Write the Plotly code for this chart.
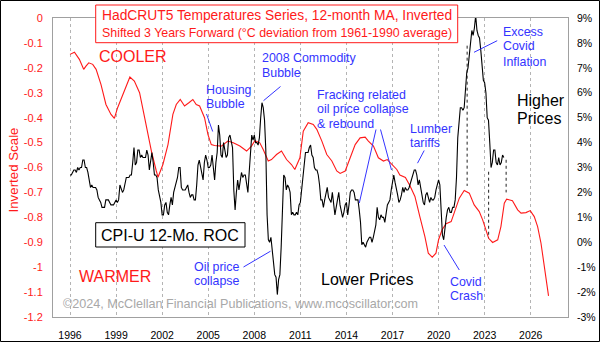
import plotly.graph_objects as go

# ---------------- data ----------------
# HadCRUT5 12-month MA, inverted, shifted 3 yrs forward (left axis, deg C)
red_x = [1996.0, 1996.29, 1996.61, 1996.89, 1997.04, 1997.22, 1997.48, 1997.7, 1998.02, 1998.34,
         1998.67, 1998.89, 1999.1, 1999.43, 1999.75, 1999.9, 2000.19, 2000.53, 2000.86, 2001.3,
         2001.62, 2001.73, 2002.05, 2002.38, 2002.7, 2002.92, 2003.18, 2003.46, 2003.74, 2004.0,
         2004.22, 2004.44, 2004.76, 2004.98, 2005.2, 2005.41, 2005.85, 2006.28, 2006.63, 2007.06,
         2007.5, 2007.82, 2008.04, 2008.36, 2008.58, 2008.91, 2009.12, 2009.45, 2009.77, 2010.1,
         2010.42, 2010.64, 2010.97, 2011.19, 2011.51, 2011.84, 2012.07, 2012.4, 2012.72, 2013.05,
         2013.37, 2013.59, 2013.92, 2014.24, 2014.57, 2014.89, 2015.22, 2015.43, 2015.76, 2016.08,
         2016.41, 2016.66, 2016.95, 2017.28, 2017.48, 2017.84, 2018.13, 2018.46, 2018.78, 2019.11,
         2019.33, 2019.59, 2019.83, 2020.0, 2020.23, 2020.49, 2020.82, 2021.03, 2021.35, 2021.67,
         2022.0, 2022.32, 2022.65, 2022.87, 2023.09, 2023.26, 2023.52, 2023.85, 2024.06, 2024.28,
         2024.43, 2024.81, 2025.15, 2025.37, 2025.69, 2025.97, 2026.23, 2026.45, 2026.67, 2026.89,
         2027.16]
red_y = [-0.146, -0.137, -0.166, -0.206, -0.193, -0.180, -0.186, -0.206, -0.267, -0.347,
         -0.387, -0.403, -0.360, -0.307, -0.253, -0.237, -0.253, -0.300, -0.400, -0.534,
         -0.614, -0.639, -0.588, -0.508, -0.387, -0.347, -0.327, -0.353, -0.340, -0.327,
         -0.347, -0.353, -0.400, -0.467, -0.508, -0.512, -0.514, -0.494, -0.501, -0.514,
         -0.534, -0.514, -0.492, -0.501, -0.528, -0.574, -0.568, -0.548, -0.534, -0.568,
         -0.588, -0.608, -0.561, -0.454, -0.420, -0.427, -0.447, -0.494, -0.548, -0.574,
         -0.614, -0.624, -0.614, -0.561, -0.508, -0.481, -0.478, -0.494, -0.514, -0.561,
         -0.574, -0.568, -0.588, -0.608, -0.630, -0.640, -0.672, -0.716, -0.797, -0.877,
         -0.944, -0.960, -0.944, -0.890, -0.850, -0.826, -0.817, -0.777, -0.723, -0.692,
         -0.703, -0.750, -0.777, -0.810, -0.850, -0.884, -0.901, -0.890, -0.837, -0.743,
         -0.727, -0.733, -0.770, -0.783, -0.781, -0.773, -0.797, -0.837, -0.904, -0.998,
         -1.115]

# CPI-U 12-month rate of change (%), monthly Jan 1996 .. Apr 2024 (right axis)
cpi_start_year = 1996
cpi_roc = [
    2.7, 2.7, 2.8, 2.9, 2.9, 2.8, 3.0, 2.9, 3.0, 3.0, 3.3, 3.3,
    3.0, 3.0, 2.8, 2.5, 2.2, 2.3, 2.2, 2.2, 2.2, 2.1, 1.8, 1.7,
    1.6, 1.4, 1.4, 1.4, 1.7, 1.7, 1.7, 1.6, 1.5, 1.5, 1.5, 1.6,
    1.7, 1.6, 1.7, 2.3, 2.1, 2.0, 2.1, 2.3, 2.6, 2.6, 2.6, 2.7,
    2.7, 3.2, 3.8, 3.1, 3.2, 3.7, 3.7, 3.4, 3.5, 3.4, 3.4, 3.4,
    3.7, 3.5, 2.9, 3.3, 3.6, 3.2, 2.7, 2.7, 2.6, 2.1, 1.9, 1.6,
    1.1, 1.1, 1.5, 1.6, 1.2, 1.1, 1.5, 1.8, 1.5, 2.0, 2.2, 2.4,
    2.6, 3.0, 3.0, 2.2, 2.1, 2.1, 2.1, 2.2, 2.3, 2.0, 1.8, 1.9,
    1.9, 1.7, 1.7, 2.3, 3.1, 3.3, 3.0, 2.7, 2.5, 3.2, 3.5, 3.3,
    3.0, 3.0, 3.1, 3.5, 2.8, 2.5, 3.2, 3.6, 4.7, 4.3, 3.5, 3.4,
    4.0, 3.6, 3.4, 3.5, 4.2, 4.3, 4.1, 3.8, 2.1, 1.3, 2.0, 2.5,
    2.1, 2.4, 2.8, 2.6, 2.7, 2.7, 2.4, 2.0, 2.8, 3.5, 4.3, 4.1,
    4.3, 4.0, 4.0, 3.9, 4.2, 5.0, 5.6, 5.4, 4.9, 3.7, 1.1, 0.1,
    0.0, 0.2, -0.4, -0.7, -1.3, -1.4, -2.1, -1.5, -1.3, -0.2, 1.8, 2.7,
    2.6, 2.1, 2.3, 2.2, 2.0, 1.1, 1.2, 1.1, 1.1, 1.2, 1.1, 1.5,
    1.6, 2.1, 2.7, 3.2, 3.6, 3.6, 3.6, 3.8, 3.9, 3.5, 3.4, 3.0,
    2.9, 2.9, 2.7, 2.3, 1.7, 1.7, 1.4, 1.7, 2.0, 2.2, 1.8, 1.7,
    1.6, 2.0, 1.5, 1.1, 1.4, 1.8, 2.0, 1.5, 1.2, 1.0, 1.2, 1.5,
    1.6, 1.1, 1.5, 2.0, 2.1, 2.1, 2.0, 1.7, 1.7, 1.7, 1.3, 0.8,
    -0.1, 0.0, -0.1, -0.2, 0.0, 0.1, 0.2, 0.2, 0.0, 0.2, 0.5, 0.7,
    1.4, 1.0, 0.9, 1.1, 1.0, 1.0, 0.8, 1.1, 1.5, 1.6, 1.7, 2.1,
    2.5, 2.7, 2.4, 2.2, 1.9, 1.6, 1.7, 1.9, 2.2, 2.0, 2.2, 2.1,
    2.1, 2.2, 2.4, 2.5, 2.8, 2.9, 2.9, 2.7, 2.3, 2.5, 2.2, 1.9,
    1.6, 1.5, 1.9, 2.0, 1.8, 1.6, 1.8, 1.7, 1.7, 1.8, 2.1, 2.3,
    2.5, 2.3, 1.5, 0.3, 0.1, 0.6, 1.0, 1.3, 1.4, 1.2, 1.2, 1.4,
    1.4, 1.7, 2.6, 4.2, 5.0, 5.4, 5.4, 5.3, 5.4, 6.2, 6.8, 7.0,
    7.5, 7.9, 8.5, 8.3, 8.6, 9.1, 8.5, 8.3, 8.2, 7.7, 7.1, 6.5,
    6.4, 6.0, 5.0, 4.9, 4.0, 3.0, 3.2, 3.7, 3.7, 3.2, 3.1, 3.4,
    3.1, 3.2, 3.5, 3.4,
]
cpi_x = [cpi_start_year + i / 12.0 for i in range(len(cpi_roc))]

x_ticks = list(range(1996, 2027, 3))
left_ticks = [0, -0.1, -0.2, -0.3, -0.4, -0.5, -0.6, -0.7, -0.8, -0.9, -1.0, -1.1, -1.2]
left_labels = ["0", "-0.1", "-0.2", "-0.3", "-0.4", "-0.5", "-0.6", "-0.7", "-0.8", "-0.9", "-1", "-1.1", "-1.2"]
right_ticks = list(range(-3, 10))
right_labels = [f"{v}%" for v in right_ticks]

# guide (dotted) lines: x, y_top, y_bottom on left-axis scale
guide_x = [2021.86, 2023.26, 2024.40]
guide_top = [-0.111, -0.617, -0.569]
guide_bot = [-0.674, -0.884, -0.700]

# ---------------- layout constants ----------------
W_PX, H_PX = 600, 342
L, R, T, B = 53, 32, 18, 25
PW, PH = W_PX - L - R, H_PX - T - B
FONT = "Liberation Sans, Arial, sans-serif"
BLUE = "#3434ff"
RED = "#ff1a1a"


def px(xp):
    return (xp - L) / PW


def py(yp):
    return (H_PX - B - yp) / PH


fig = go.Figure()
fig.add_trace(go.Scatter(x=red_x, y=red_y, mode="lines", line=dict(color=RED, width=1.1),
                         yaxis="y", hoverinfo="skip", showlegend=False))
fig.add_trace(go.Scatter(x=cpi_x, y=cpi_roc, mode="lines", line=dict(color="black", width=1.1),
                         yaxis="y2", hoverinfo="skip", showlegend=False))

shapes = []
for gx, gt, gb in zip(guide_x, guide_top, guide_bot):
    shapes.append(dict(type="line", xref="x", yref="y", x0=gx, x1=gx, y0=gt, y1=gb,
                       line=dict(color="#222222", width=1, dash="dot")))

# outer border
shapes.append(dict(type="rect", xref="paper", yref="paper", x0=px(0.5), x1=px(599.5),
                   y0=py(341.5), y1=py(0.5), line=dict(color="black", width=1), layer="above"))
# title box
shapes.append(dict(type="rect", xref="paper", yref="paper", x0=px(95.7), x1=px(457.7),
                   y0=py(42.7), y1=py(5), line=dict(color=RED, width=1), fillcolor="white", layer="above"))
# CPI label box
shapes.append(dict(type="rect", xref="paper", yref="paper", x0=px(95.7), x1=px(245),
                   y0=py(247), y1=py(222.7), line=dict(color="black", width=1), fillcolor="white", layer="above"))

# pointer lines
pointers = [((206.5, 114), (212.7, 131.5)), ((280.5, 86.5), (263.5, 100.7)),
            ((359.3, 203), (376, 129.5)), ((380.5, 129.5), (391.5, 170)),
            ((424.2, 150.5), (417.5, 163.2)), ((497.2, 40.7), (474, 52.3)),
            ((243.5, 267), (270.5, 251.2)), ((459.3, 270), (444, 245))]
for (a, b) in pointers:
    shapes.append(dict(type="line", xref="paper", yref="paper", x0=px(a[0]), y0=py(a[1]),
                       x1=px(b[0]), y1=py(b[1]), line=dict(color=BLUE, width=1)))

annotations = []


def txt(t, x, y, size, color, anchor="left", angle=0):
    annotations.append(dict(text=t, x=px(x), y=py(y), xref="paper", yref="paper", showarrow=False,
                            xanchor=anchor, yanchor="middle", textangle=angle, borderpad=0, borderwidth=0,
                            font=dict(family=FONT, size=size, color=color)))


txt("HadCRUT5 Temperatures Series, 12-month MA, Inverted", 276.5, 15, 13.8, RED, "center")
txt("Shifted 3 Years Forward (°C deviation from 1961-1990 average)", 276.5, 33.5, 12.4, RED, "center")
txt("COOLER", 133, 56, 16, RED, "center")
txt("WARMER", 115, 276, 16, RED, "center")
txt("CPI-U 12-Mo. ROC", 170.3, 235, 16, "black", "center")
txt("Lower Prices", 320.5, 279, 16, "black")
txt("Higher", 517, 100, 16, "black")
txt("Prices", 517, 118.3, 16, "black")
txt("©2024, McClellan Financial Publications, www.mcoscillator.com", 63, 304, 12.6, "#a8a8a8")
txt("Inverted Scale", 13, 170.5, 13.3, RED, "center", -90)

blue_lines = [("Housing", 206, 90), ("Bubble", 206, 103.7),
              ("2008 Commodity", 261.7, 58.3), ("Bubble", 261.7, 72.7),
              ("Fracking related", 316.5, 95), ("oil price collapse", 316.5, 108.7), ("& rebound", 316.5, 124),
              ("Lumber", 410, 129.3), ("tariffs", 410, 143),
              ("Excess", 503.3, 31.7), ("Covid", 503.3, 46), ("Inflation", 503.3, 61.5),
              ("Oil price", 194, 266.7), ("collapse", 194, 281),
              ("Covid", 450, 281.7), ("Crash", 450, 296)]
for t, x, y in blue_lines:
    txt(t, x, y, 12.4, BLUE)

fig.update_layout(
    width=W_PX, height=H_PX,
    margin=dict(l=L, r=R, t=T, b=B, pad=0, autoexpand=False),
    paper_bgcolor="white", plot_bgcolor="white",
    font=dict(family=FONT),
    showlegend=False,
    xaxis=dict(range=[1994.893, 2028.428], tickvals=x_ticks, ticktext=[str(v) for v in x_ticks],
               showgrid=True, gridcolor="#b4b4b4", griddash="dot", gridwidth=1,
               showline=True, linecolor="#a0a0a0", linewidth=1, mirror=True, automargin=False,
               ticks="", zeroline=False, ticklabelstandoff=8,
               tickfont=dict(family=FONT, size=10.5, color="black")),
    yaxis=dict(range=[-1.2, 0], tickvals=left_ticks, ticktext=left_labels, showgrid=False,
               showline=True, linecolor="#a0a0a0", linewidth=1, mirror=True, ticks="", zeroline=False,
               automargin=False, ticklabelstandoff=7, tickfont=dict(family=FONT, size=11, color=RED)),
    yaxis2=dict(range=[-3, 9], tickvals=right_ticks, ticktext=right_labels, overlaying="y", side="right",
                showgrid=False, showline=False, ticks="", zeroline=False, automargin=False,
                ticklabelstandoff=8, tickfont=dict(family=FONT, size=10.5, color="black")),
    shapes=shapes,
    annotations=annotations,
)

fig.write_html("out.html")
